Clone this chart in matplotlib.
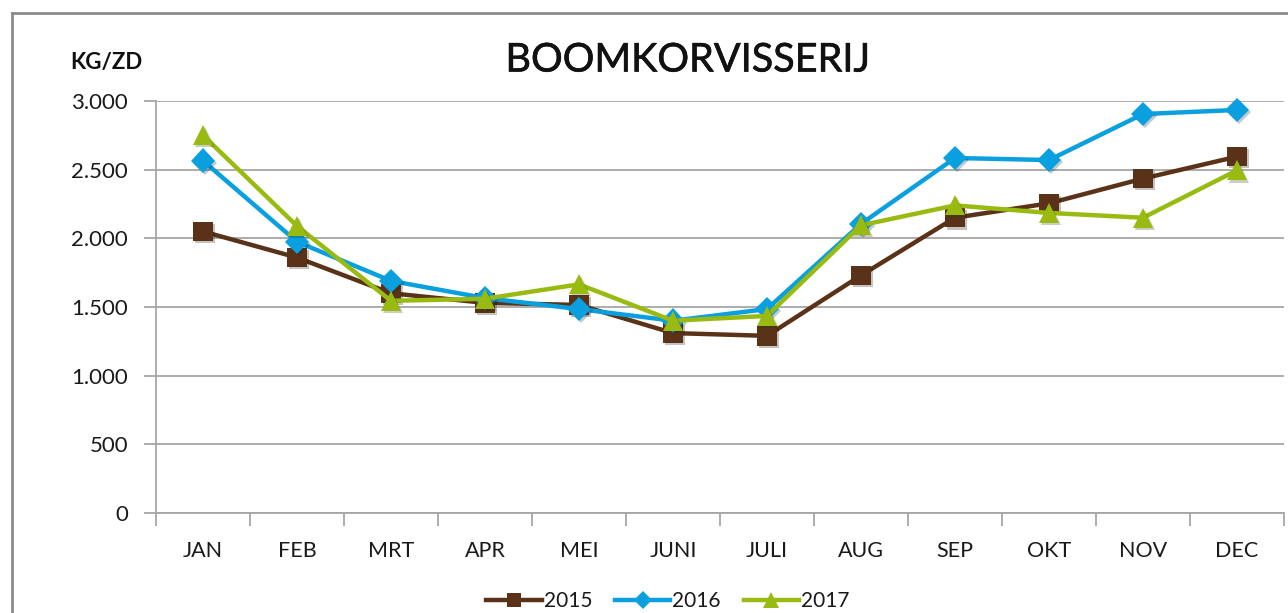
import matplotlib
matplotlib.use("Agg")
import matplotlib.pyplot as plt
from matplotlib.lines import Line2D
from matplotlib.ticker import FuncFormatter, FixedLocator
import matplotlib.patheffects as pe

months = ["JAN", "FEB", "MRT", "APR", "MEI", "JUNI", "JULI", "AUG", "SEP", "OKT", "NOV", "DEC"]
y2015 = [2050, 1860, 1600, 1530, 1515, 1310, 1290, 1730, 2150, 2255, 2435, 2595]
y2016 = [2565, 1975, 1690, 1565, 1485, 1400, 1485, 2105, 2585, 2570, 2905, 2935]
y2017 = [2750, 2090, 1545, 1560, 1665, 1400, 1435, 2095, 2240, 2185, 2150, 2495]

plt.rcParams['font.family'] = ['Lato', 'DejaVu Sans']

fig = plt.figure(figsize=(12.88, 6.13), dpi=100)
ax = fig.add_axes([156/1288, 1-513/613, 1128/1288, 412/613])

grid_c = "#a6a6a6"
text_c = "#1a1a1a"
marker_fx = [pe.SimplePatchShadow(offset=(1.5, -1.5), alpha=0.25), pe.Normal()]
series = [
    ("2015", y2015, "#5a3218", "s", 14),
    ("2016", y2016, "#0aa0e0", "D", 12.5),
    ("2017", y2017, "#99bb11", "^", 14.5),
]
x = list(range(len(months)))
handles = []
for name, vals, col, mk, ms in series:
    ax.plot(x, vals, color=col, lw=3.2, solid_joinstyle="round", clip_on=False)
    ax.plot(x, vals, ls="none", marker=mk, markersize=ms, color=col,
            markeredgewidth=0, path_effects=marker_fx, clip_on=False)
    handles.append(Line2D([], [], color=col, lw=3.2, marker=mk,
                          markersize=ms * 0.75, markeredgewidth=0, label=name))

ax.set_xlim(-0.5, len(months) - 0.5)
ax.set_ylim(0, 3000)
ax.set_yticks(range(0, 3001, 500))
ax.yaxis.set_major_formatter(FuncFormatter(lambda v, p: f"{int(v):,}".replace(",", ".")))
ax.grid(axis="y", color=grid_c, lw=1.3)
ax.set_axisbelow(True)

ax.set_xticks(x)
ax.set_xticklabels(months)
ax.xaxis.set_minor_locator(FixedLocator([i + 0.5 for i in range(-1, len(months))]))
ax.tick_params(axis="x", which="major", length=0, pad=20, labelsize=15.5, colors=text_c)
ax.tick_params(axis="x", which="minor", length=9, width=1.3, color=grid_c)
ax.tick_params(axis="y", length=9, width=1.3, color=grid_c, labelsize=16, pad=11,
               labelcolor=text_c)

for s in ["top", "right"]:
    ax.spines[s].set_visible(False)
for s in ["left", "bottom"]:
    ax.spines[s].set_color(grid_c)
    ax.spines[s].set_linewidth(1.3)

fig.text(688/1288, 1-60/613, "BOOMKORVISSERIJ", ha="center", va="center",
         fontsize=28.5, color="#111111",
         path_effects=[pe.withStroke(linewidth=0.45, foreground="#111111")])
fig.text(70/1288, 1-62/613, "KG/ZD", ha="left", va="center",
         fontsize=16, fontweight="bold", color="#111111")

# outer chart frame
fig.add_artist(Line2D([12/1288, 12/1288], [0, 1-13/613], transform=fig.transFigure,
                      color="#8c8c8c", lw=2))
fig.add_artist(Line2D([12/1288, 1], [1-13/613, 1-13/613], transform=fig.transFigure,
                      color="#8c8c8c", lw=2))

leg = fig.legend(handles=handles, loc="center", bbox_to_anchor=(668/1288, 1-601/613),
                 ncol=3, frameon=False, fontsize=15, handlelength=2.65,
                 handletextpad=0.1, columnspacing=1.1)
for t in leg.get_texts():
    t.set_color(text_c)

fig.savefig("out.png", dpi=100)
